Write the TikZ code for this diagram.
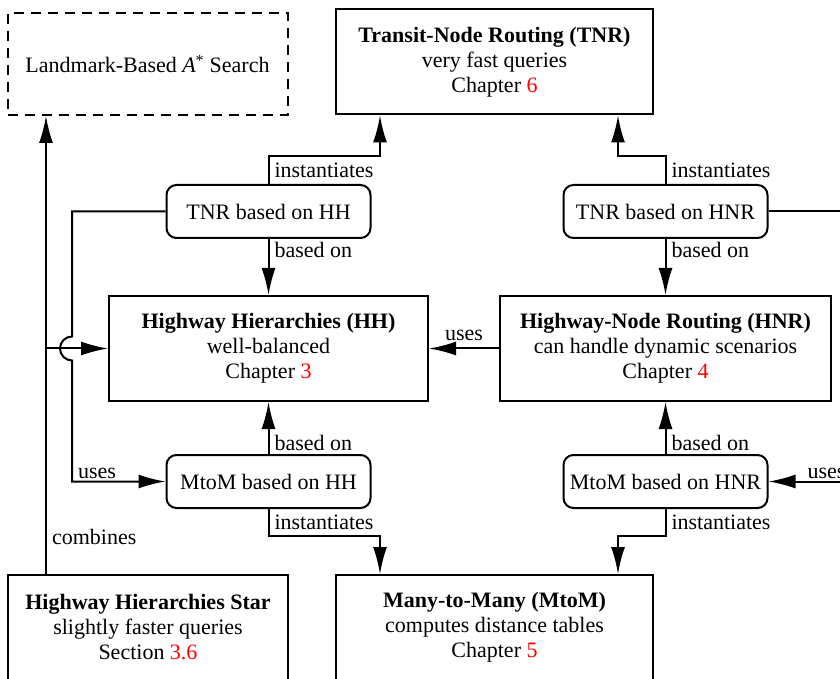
\documentclass[tikz,border=0pt]{standalone}
\usepackage{fontspec}
\setmainfont{Liberation Serif}
\usepackage{xcolor}
\usetikzlibrary{arrows.meta,positioning}

\begin{document}
\begin{tikzpicture}[x=1pt,y=1pt,
    font=\fontsize{22}{25}\selectfont,
    line width=2pt,
    >={Latex[length=27pt,width=14pt]},
    bigbox/.style={draw, rectangle, align=center, minimum height=105pt, inner sep=0pt},
    smallbox/.style={draw, rounded corners=10pt, minimum width=204pt, minimum height=53pt, inner sep=0pt},
    lbl/.style={inner xsep=5pt, inner ysep=2pt}]
\useasboundingbox (0,0) rectangle (840,678);
\clip (0,0) rectangle (840,678);

\node[bigbox, minimum width=319pt] (HH) at (268.5,329.5) {\textbf{Highway Hierarchies (HH)}\\well-balanced\\Chapter \textcolor{red}{3}};
\node[bigbox, minimum width=331pt, right=70pt of HH] (HNR) {\textbf{Highway-Node Routing (HNR)}\\can handle dynamic scenarios\\Chapter \textcolor{red}{4}};
\node[smallbox, above=56pt of HH] (TNRHH) {TNR based on HH};
\node[smallbox, above=56pt of HNR] (TNRHNR) {TNR based on HNR};
\node[smallbox, below=52pt of HH] (MtoMHH) {MtoM based on HH};
\node[smallbox, below=52pt of HNR] (MtoMHNR) {MtoM based on HNR};
\node[bigbox, minimum width=317pt] (TNR) at (494.5,616) {\textbf{Transit-Node Routing (TNR)}\\very fast queries\\Chapter \textcolor{red}{6}};
\node[draw, dash pattern=on 10pt off 7pt, minimum width=280pt, minimum height=102pt] (Landmark) at (147.5,614) {Landmark-Based \textit{A}\textsuperscript{*} Search};
\node[bigbox, minimum width=280pt] (HHStar) at (148,50.5) {\textbf{Highway Hierarchies Star}\\slightly faster queries\\Section \textcolor{red}{3.6}};
\node[bigbox, minimum width=317pt] (MtoM) at (494.5,50.5) {\textbf{Many-to-Many (MtoM)}\\computes distance tables\\Chapter \textcolor{red}{5}};

\coordinate (hop) at ([xshift=-36pt]HH.west);
\coordinate (comb) at ([xshift=-102pt]HHStar.north);

\draw[->] (TNRHH.north) -- node[lbl, right] {instantiates} ++(0,28) -| ([xshift=-114.5pt]TNR.south);
\draw[->] (TNRHNR.north) -- node[lbl, right] {instantiates} ++(0,28) -| ([xshift=123.5pt]TNR.south);
\draw[->] (TNRHH.south) -- node[lbl, pos=0, below right] {based on} (HH.north);
\draw[->] (TNRHNR.south) -- node[lbl, pos=0, below right] {based on} (HNR.north);
\draw[->] (MtoMHH.north) -- node[lbl, pos=0, above right] {based on} (HH.south);
\draw[->] (MtoMHNR.north) -- node[lbl, pos=0, above right] {based on} (HNR.south);
\draw[->] (MtoMHH.south) -- node[lbl, right] {instantiates} ++(0,-27) -| ([xshift=-114.5pt]MtoM.north);
\draw[->] (MtoMHNR.south) -- node[lbl, right] {instantiates} ++(0,-27) -| ([xshift=123.5pt]MtoM.north);
\draw[->] (HNR.west) -- node[lbl, above=5pt] {uses} (HH.east);
\draw[->] (TNRHH.west) -| ([yshift=12pt]hop) arc[start angle=90, end angle=270, radius=12pt] |- node[lbl, pos=0.5, above right] {uses} (MtoMHH.west);
\draw[->] (TNRHNR.east) -- ++(116,0) |- node[lbl, pos=0.75, above] {uses} (MtoMHNR.east);
\draw[->] (comb) -- node[lbl, pos=0.08, right] {combines} (comb |- Landmark.south);
\draw[->] (comb |- HH.west) -- (HH.west);
\end{tikzpicture}
\end{document}
